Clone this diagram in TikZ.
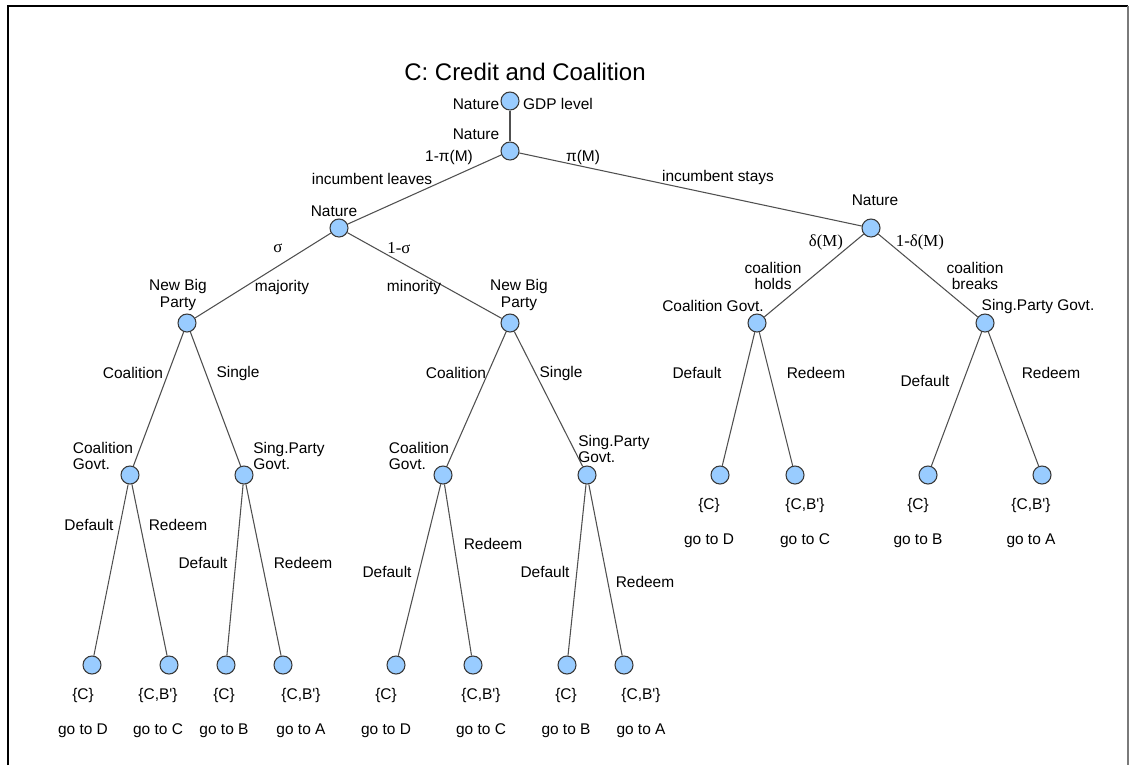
\documentclass[tikz,border=0pt]{standalone}
\usepackage{fontspec}
\setmainfont{Liberation Sans}
\newfontfamily\gkfont{Liberation Serif}
\usetikzlibrary{positioning}
\definecolor{gtFill}{HTML}{99CCFF}
\definecolor{gtLine}{HTML}{3A3A3A}
\definecolor{gtEdge}{HTML}{505050}
\definecolor{gtFrame}{HTML}{7A7A7A}
\tikzset{
  gtnode/.style={circle, draw=gtLine, fill=gtFill, line width=0.8pt,
    minimum size=13.5pt, inner sep=0pt},
  gtedge/.style={draw=gtEdge, line width=0.8pt},
  lbl/.style={font=\fontsize{11.6}{12.6}\selectfont, inner sep=0pt, align=center},
  lbll/.style={lbl, align=left},
  gk/.style={lbl, font=\fontsize{12.6}{13.6}\gkfont},
  payoff/.style={lbl},
  gttitle/.style={font=\fontsize{18}{20}\selectfont, inner sep=0pt}
}

\begin{document}
\begin{tikzpicture}[x=0.75pt, y=-0.75pt]
  \useasboundingbox (0,0) rectangle (1131,765);
  % frame
  \draw[black, line width=1.5pt] (8,765) -- (8,6) -- (1128,6);
  \draw[gtFrame, line width=1pt] (1128,6) -- (1128,765);

  \node[gttitle] (title) at (525,72) {C: Credit and Coalition};

  % decision nodes
  \node[gtnode] (root) at (510,101) {};
  \node[gtnode] (nat) at (510,151) {};
  \node[gtnode] (leave) at (339,228) {};
  \node[gtnode] (stay) at (871,228) {};
  \node[gtnode] (maj) at (187,323) {};
  \node[gtnode] (mino) at (510,323) {};
  \node[gtnode] (holds) at (757,323) {};
  \node[gtnode] (breaks) at (985,323) {};
  \node[gtnode] (majC) at (130,475) {};
  \node[gtnode] (majS) at (244,475) {};
  \node[gtnode] (minC) at (443,475) {};
  \node[gtnode] (minS) at (587,475) {};
  % end nodes
  \node[gtnode] (hD) at (720,475) {};
  \node[gtnode] (hR) at (795,475) {};
  \node[gtnode] (bD) at (928,475) {};
  \node[gtnode] (bR) at (1042,475) {};
  \node[gtnode] (majCD) at (92,665) {};
  \node[gtnode] (majCR) at (169,665) {};
  \node[gtnode] (majSD) at (226,665) {};
  \node[gtnode] (majSR) at (283,665) {};
  \node[gtnode] (minCD) at (396,665) {};
  \node[gtnode] (minCR) at (473,665) {};
  \node[gtnode] (minSD) at (567,665) {};
  \node[gtnode] (minSR) at (624,665) {};

  \foreach \s/\e in {root/nat, nat/leave, nat/stay, leave/maj, leave/mino,
    stay/holds, stay/breaks, maj/majC, maj/majS, mino/minC, mino/minS,
    holds/hD, holds/hR, breaks/bD, breaks/bR, majC/majCD, majC/majCR,
    majS/majSD, majS/majSR, minC/minCD, minC/minCR, minS/minSD, minS/minSR}
    {\draw[gtedge] (\s) -- (\e);}

  % node owners
  \node[lbl] (rootl) at (476,104) {Nature};
  \node[lbl] (rootr) at (558,104) {GDP level};
  \node[lbl] (natl) at (476,134) {Nature};
  \node[lbl] (leavel) at (334,211) {Nature};
  \node[lbl] (stayl) at (875,200) {Nature};
  \node[lbl] (majl) at (178,295) {New Big\\Party};
  \node[lbl] (minol) at (519,295) {New Big\\Party};
  \node[lbl] (holdsl) at (713,306) {Coalition Govt.};
  \node[lbl] (breaksl) at (1038,306) {Sing.Party Govt.};
  \node[lbll] (majCl) at (103,456) {Coalition\\Govt.};
  \node[lbll] (majSl) at (289,456) {Sing.Party\\Govt.};
  \node[lbll] (minCl) at (419,456) {Coalition\\Govt.};
  \node[lbll] (minSl) at (614,449) {Sing.Party\\Govt.};

  % branch labels
  \node[lbl] (pl) at (449,157) {1-π(M)};
  \node[lbl] (pr) at (583,157) {π(M)};
  \node[lbl] (il) at (372,179) {incumbent leaves};
  \node[lbl] (ir) at (718,177) {incumbent stays};
  \node[gk] (sl) at (278,248) {σ};
  \node[gk] (sr) at (399,248) {1-σ};
  \node[lbl] (majb) at (282,287) {majority};
  \node[lbl] (minb) at (414,287) {minority};
  \node[gk] (dl) at (826,242) {δ(M)};
  \node[gk] (dr) at (920,242) {1-δ(M)};
  \node[lbl] (holdsb) at (773,276) {coalition\\holds};
  \node[lbl] (breaksb) at (975,276) {coalition\\breaks};
  \node[lbl] (majCb) at (133,373) {Coalition};
  \node[lbl] (majSb) at (238,373) {Single};
  \node[lbl] (minCb) at (456,373) {Coalition};
  \node[lbl] (minSb) at (561,373) {Single};
  \node[lbl] (hDb) at (697,373) {Default};
  \node[lbl] (hRb) at (816,373) {Redeem};
  \node[lbl] (bDb) at (925,381) {Default};
  \node[lbl] (bRb) at (1051,373) {Redeem};
  \node[lbl] (majCDb) at (89,525) {Default};
  \node[lbl] (majCRb) at (178,525) {Redeem};
  \node[lbl] (majSDb) at (203,563) {Default};
  \node[lbl] (majSRb) at (303,563) {Redeem};
  \node[lbl] (minCDb) at (387,572) {Default};
  \node[lbl] (minCRb) at (493,544) {Redeem};
  \node[lbl] (minSDb) at (545,572) {Default};
  \node[lbl] (minSRb) at (645,582) {Redeem};

  % payoffs
  \foreach \n/\x/\y/\set/\go in {
      hD/709/505/{C}/D, hR/805/505/{C,B\textquotesingle}/C, bD/918/505/{C}/B, bR/1031/505/{C,B\textquotesingle}/A,
      majCD/83/695/{C}/D, majCR/158/695/{C,B\textquotesingle}/C, majSD/224/695/{C}/B, majSR/301/695/{C,B\textquotesingle}/A,
      minCD/386/695/{C}/D, minCR/481/695/{C,B\textquotesingle}/C, minSD/566/695/{C}/B, minSR/641/695/{C,B\textquotesingle}/A}
  {
    \node[payoff] (\n-set) at (\x,\y) {\{\set\}};
    \node[payoff] (\n-go) at (\x,\y+36) {go to \go};
  }
\end{tikzpicture}
\end{document}
